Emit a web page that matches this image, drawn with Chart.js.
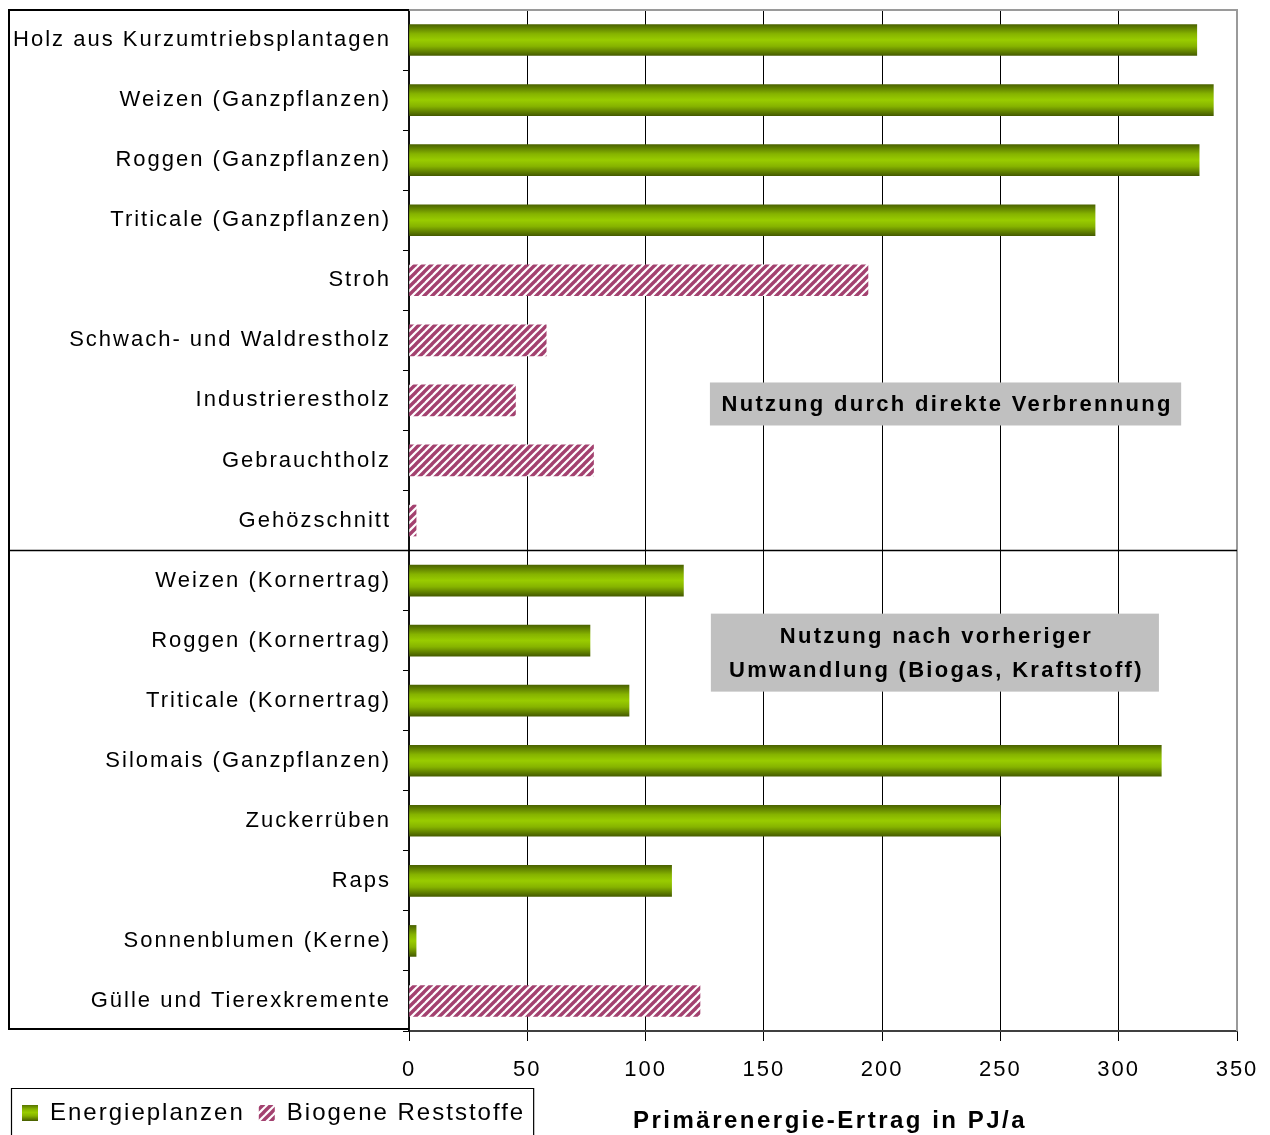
<!DOCTYPE html>
<html lang="de">
<head>
<meta charset="utf-8">
<title>Primärenergie-Ertrag</title>
<script src="https://cdn.jsdelivr.net/npm/chart.js@4/dist/chart.umd.min.js"></script>
<style>
  html, body { margin: 0; padding: 0; background: #ffffff; }
  #wrap { width: 1270px; height: 1135px; }
</style>
</head>
<body>
<div id="wrap"><canvas id="c" width="1270" height="1135"></canvas></div>
<script>
// Kategorien (von oben nach unten)
const categories = [
  'Holz aus Kurzumtriebsplantagen',
  'Weizen (Ganzpflanzen)',
  'Roggen (Ganzpflanzen)',
  'Triticale (Ganzpflanzen)',
  'Stroh',
  'Schwach- und Waldrestholz',
  'Industrierestholz',
  'Gebrauchtholz',
  'Gehözschnitt',
  'Weizen (Kornertrag)',
  'Roggen (Kornertrag)',
  'Triticale (Kornertrag)',
  'Silomais (Ganzpflanzen)',
  'Zuckerrüben',
  'Raps',
  'Sonnenblumen (Kerne)',
  'Gülle und Tierexkremente'
];

// Primärenergie-Ertrag in PJ/a
const energiepflanzen = [333, 340, 334, 290, null, null, null, null, null, 116, 76.5, 93, 318, 250, 111, 3, null];
const reststoffe      = [null, null, null, null, 194, 58, 45, 78, 3, null, null, null, null, null, null, null, 123];

const seriesNames = ['Energieplanzen', 'Biogene Reststoffe'];
const xTicks = [0, 50, 100, 150, 200, 250, 300, 350];
const axisTitle = 'Primärenergie-Ertrag in PJ/a';
const noteDirect = ['Nutzung durch direkte Verbrennung'];
const noteConverted = ['Nutzung nach vorheriger', 'Umwandlung (Biogas, Kraftstoff)'];

const FONT = '"Liberation Sans", Arial, sans-serif';
const BAR_H = 31;

// diagonal hatch for residual materials
function makeHatch() {
  const s = 8;
  const cv = document.createElement('canvas');
  cv.width = s; cv.height = s;
  const g = cv.getContext('2d');
  g.fillStyle = '#ffffff';
  g.fillRect(0, 0, s, s);
  g.strokeStyle = '#a3416f';
  g.lineWidth = 3.4;
  g.lineCap = 'square';
  for (const off of [-s, 0, s]) {
    g.beginPath();
    g.moveTo(off, s);
    g.lineTo(off + s, 0);
    g.stroke();
  }
  return g.createPattern(cv, 'repeat');
}
const hatch = makeHatch();

function greenGradient(ctx, y0, y1) {
  const g = ctx.createLinearGradient(0, y0, 0, y1);
  g.addColorStop(0, '#4b6300');
  g.addColorStop(0.3, '#86b300');
  g.addColorStop(0.5, '#99cc00');
  g.addColorStop(0.7, '#86b300');
  g.addColorStop(1, '#465c00');
  return g;
}

function barGradient(c) {
  const chart = c.chart;
  const ys = chart.scales && chart.scales.y;
  if (!ys || c.dataIndex == null) return '#99cc00';
  const cy = ys.getPixelForValue(c.dataIndex);
  return greenGradient(chart.ctx, cy - BAR_H / 2, cy + BAR_H / 2);
}

// letter spacing for axis and legend text
const spacingPlugin = {
  id: 'spacing',
  beforeUpdate(chart) { chart.ctx.letterSpacing = '2px'; },
  beforeLayout(chart) { chart.ctx.letterSpacing = '2px'; },
  beforeDraw(chart) { chart.ctx.letterSpacing = '2px'; }
};

// frame, label box, separator, notes and axis title
const decorPlugin = {
  id: 'decor',
  afterDraw(chart) {
    const ctx = chart.ctx;
    const a = chart.chartArea;
    const xs = chart.scales.x, ys = chart.scales.y;
    ctx.save();
    ctx.letterSpacing = '0px';

    // plot frame top/right
    ctx.strokeStyle = '#9a9a9a';
    ctx.lineWidth = 2;
    ctx.beginPath();
    ctx.moveTo(a.left, a.top);
    ctx.lineTo(a.right, a.top);
    ctx.lineTo(a.right, a.bottom);
    ctx.stroke();

    // box around the category labels
    const boxLeft = 9;
    const boxBottom = a.bottom - 2;
    ctx.strokeStyle = '#000000';
    ctx.lineWidth = 2;
    ctx.beginPath();
    ctx.moveTo(a.left, a.top);
    ctx.lineTo(boxLeft, a.top);
    ctx.lineTo(boxLeft, boxBottom);
    ctx.lineTo(a.left, boxBottom);
    ctx.stroke();

    // separator between the two groups
    const sepY = Math.round((ys.getPixelForValue(8) + ys.getPixelForValue(9)) / 2) - 0.5;
    ctx.lineWidth = 1.6;
    ctx.beginPath();
    ctx.moveTo(boxLeft, sepY);
    ctx.lineTo(a.right, sepY);
    ctx.stroke();

    // grey note boxes
    function note(lines, v0, v1, cIdx, h) {
      const x0 = xs.getPixelForValue(v0), x1 = xs.getPixelForValue(v1);
      const cy = ys.getPixelForValue(cIdx);
      ctx.fillStyle = '#c0c0c0';
      ctx.fillRect(x0, cy - h / 2, x1 - x0, h);
      ctx.fillStyle = '#000000';
      ctx.font = 'bold 22px ' + FONT;
      ctx.letterSpacing = '2.3px';
      ctx.textAlign = 'center';
      ctx.textBaseline = 'middle';
      const lh = 34;
      const startY = cy - (lines.length - 1) * lh / 2;
      lines.forEach((t, i) => ctx.fillText(t, (x0 + x1) / 2 + 1.5, startY + i * lh + 1));
    }
    note(noteDirect, 127.2, 326.4, 6.06, 43);
    note(noteConverted, 127.6, 317.0, 10.2, 78);

    // axis title
    ctx.font = 'bold 24px ' + FONT;
    ctx.letterSpacing = '2.5px';
    ctx.textAlign = 'center';
    ctx.textBaseline = 'middle';
    ctx.fillStyle = '#000000';
    ctx.fillText(axisTitle, (a.left + a.right) / 2 + 7, 1121);

    // legend frame
    const lg = chart.legend;
    if (lg && lg.legendHitBoxes && lg.legendHitBoxes.length) {
      const hb = lg.legendHitBoxes;
      const l = hb[0].left - 10.5;
      const r = hb[hb.length - 1].left + hb[hb.length - 1].width + 8.5;
      const t = lg.top + 1.5;
      ctx.strokeStyle = '#000000';
      ctx.lineWidth = 1.2;
      ctx.beginPath();
      ctx.moveTo(l, chart.height + 2);
      ctx.lineTo(l, t);
      ctx.lineTo(r, t);
      ctx.lineTo(r, chart.height + 2);
      ctx.stroke();
    }
    ctx.restore();
  }
};

const ctx = document.getElementById('c').getContext('2d');
new Chart(ctx, {
  type: 'bar',
  data: {
    labels: categories,
    datasets: [
      {
        label: seriesNames[0],
        data: energiepflanzen,
        backgroundColor: barGradient,
        borderWidth: 0,
        barThickness: BAR_H,
        grouped: false
      },
      {
        label: seriesNames[1],
        data: reststoffe,
        backgroundColor: hatch,
        borderWidth: 0,
        barThickness: BAR_H,
        grouped: false
      }
    ]
  },
  plugins: [spacingPlugin, decorPlugin],
  options: {
    indexAxis: 'y',
    responsive: false,
    animation: false,
    devicePixelRatio: 1,
    layout: { padding: { left: 8, top: 10, right: 33, bottom: 0 } },
    scales: {
      x: {
        type: 'linear',
        min: 0,
        max: 350,
        afterBuildTicks(scale) { scale.ticks = xTicks.map(v => ({ value: v })); },
        afterFit(scale) { scale.height = 56; scale.paddingLeft = 0; scale.paddingRight = 0; },
        grid: {
          color: (c) => (c.index === 0 ? 'rgba(0,0,0,0)' : (c.index === xTicks.length - 1 ? '#9a9a9a' : '#000000')),
          tickColor: '#000000',
          lineWidth: 1,
          tickLength: 10
        },
        border: { display: true, color: '#404040', width: 2 },
        ticks: {
          color: '#000000',
          font: { family: FONT, size: 22 },
          padding: 16,
          maxRotation: 0
        }
      },
      y: {
        type: 'category',
        afterFit(scale) { scale.width = 401; scale.paddingTop = 0; scale.paddingBottom = 0; },
        grid: {
          offset: true,
          drawOnChartArea: false,
          drawTicks: true,
          tickLength: 6,
          color: '#000000',
          lineWidth: 1
        },
        border: { display: true, color: '#111111', width: 2 },
        ticks: {
          color: '#000000',
          font: { family: FONT, size: 22 },
          padding: 12,
          autoSkip: false
        }
      }
    },
    plugins: {
      tooltip: { enabled: false },
      title: { display: false },
      legend: {
        display: true,
        position: 'bottom',
        align: 'start',
        labels: {
          color: '#000000',
          font: { family: FONT, size: 24 },
          boxWidth: 16,
          boxHeight: 16,
          padding: 14,
          generateLabels(chart) {
            return [
              { text: seriesNames[0], fillStyle: greenGradient(chart.ctx, 1104, 1121), strokeStyle: 'rgba(0,0,0,0)', lineWidth: 0, datasetIndex: 0, hidden: false },
              { text: seriesNames[1], fillStyle: hatch, strokeStyle: 'rgba(0,0,0,0)', lineWidth: 0, datasetIndex: 1, hidden: false }
            ];
          }
        }
      }
    }
  }
});
</script>
</body>
</html>
